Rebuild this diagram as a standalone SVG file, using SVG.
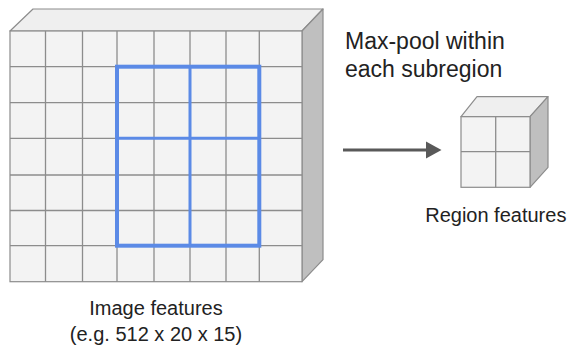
<svg xmlns="http://www.w3.org/2000/svg" width="572" height="347" viewBox="0 0 572 347">
  <style>
    .front { fill: #f3f3f3; stroke: #8c8c8c; stroke-width: 1.2; }
    .top { fill: #efefef; stroke: #8c8c8c; stroke-width: 1.2; stroke-linejoin: round; }
    .side { fill: #bfbfbf; stroke: #8c8c8c; stroke-width: 1.2; stroke-linejoin: round; }
    .grid { stroke: #8c8c8c; stroke-width: 1.3; fill: none; }
    .pool { stroke: #5b8ae6; fill: none; }
    .label { font-family: "Liberation Sans", Arial, sans-serif; fill: #222222; }
  </style>

  <!-- Input feature volume -->
  <g id="image-features">
    <polygon class="top" points="10,31 33,9 323,9 302,31"/>
    <polygon class="side" points="302,31 323,9 323,259.7 302,281.7"/>
    <rect class="front" x="10" y="31" width="292" height="250.7"/>
    <g class="grid">
      <line x1="45.5" y1="31" x2="45.5" y2="281.7"/>
      <line x1="82.5" y1="31" x2="82.5" y2="281.7"/>
      <line x1="117" y1="31" x2="117" y2="281.7"/>
      <line x1="154" y1="31" x2="154" y2="281.7"/>
      <line x1="190" y1="31" x2="190" y2="281.7"/>
      <line x1="226" y1="31" x2="226" y2="281.7"/>
      <line x1="259.3" y1="31" x2="259.3" y2="281.7"/>
      <line x1="10" y1="66.7" x2="302" y2="66.7"/>
      <line x1="10" y1="102.7" x2="302" y2="102.7"/>
      <line x1="10" y1="138.3" x2="302" y2="138.3"/>
      <line x1="10" y1="175" x2="302" y2="175"/>
      <line x1="10" y1="210.5" x2="302" y2="210.5"/>
      <line x1="10" y1="245.7" x2="302" y2="245.7"/>
    </g>
    <!-- 2x2 pooling subregions -->
    <rect class="pool" x="117" y="66.7" width="142.3" height="179" stroke-width="4"/>
    <line class="pool" x1="190" y1="66.7" x2="190" y2="245.7" stroke-width="3"/>
    <line class="pool" x1="117" y1="138.3" x2="259.3" y2="138.3" stroke-width="3"/>
  </g>

  <!-- Pooled output volume -->
  <g id="region-features">
    <polygon class="top" points="461,116.7 477,96.7 548,96.7 530,116.7"/>
    <polygon class="side" points="530,116.7 548,96.7 548,167.3 530,187.3"/>
    <rect class="front" x="461" y="116.7" width="69" height="70.6"/>
    <line class="grid" x1="495.7" y1="116.7" x2="495.7" y2="187.3"/>
    <line class="grid" x1="461" y1="151.7" x2="530" y2="151.7"/>
  </g>

  <g id="connectors">
    <line x1="343" y1="150" x2="428" y2="150" stroke="#595959" stroke-width="3"/>
    <polygon points="426,141.5 441.5,150 426,158.5" fill="#595959"/>
  </g>

  <g id="labels">
    <text class="label" x="345" y="49.3" font-size="23">Max-pool within</text>
    <text class="label" x="345" y="76.7" font-size="23">each subregion</text>
    <text class="label" x="495.8" y="222.3" font-size="20" text-anchor="middle">Region features</text>
    <text class="label" x="156" y="315.3" font-size="20" text-anchor="middle">Image features</text>
    <text class="label" x="156" y="341" font-size="20" text-anchor="middle">(e.g. 512 x 20 x 15)</text>
  </g>
</svg>
